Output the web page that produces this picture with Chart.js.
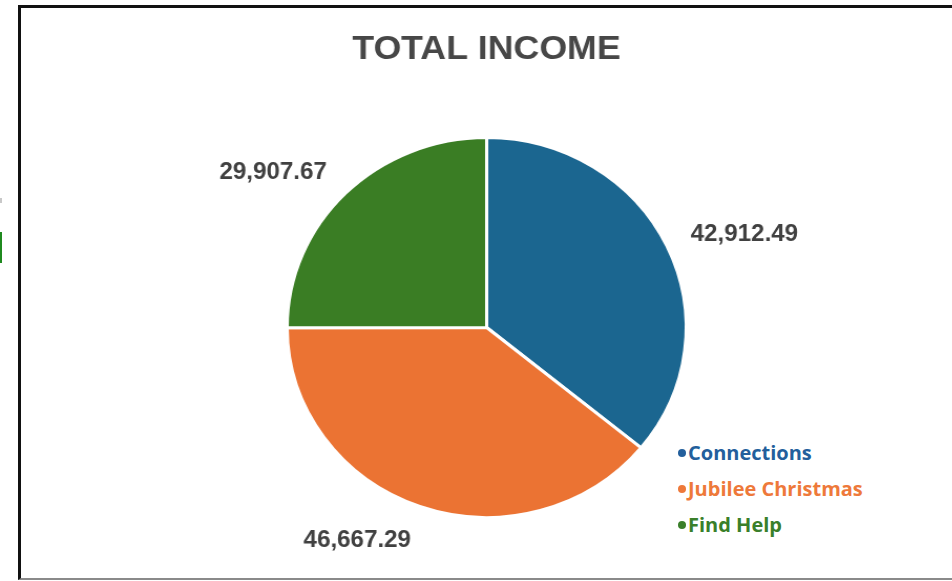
<!DOCTYPE html>
<html>
<head>
<meta charset="utf-8">
<script src="https://cdn.jsdelivr.net/npm/chart.js@4.4.1/dist/chart.umd.min.js"></script>
<style>
  html, body { margin: 0; padding: 0; background: #fff; overflow: hidden; }
  body { width: 952px; height: 581px; position: relative; }
  #frame {
    position: absolute; left: 18px; top: 5px; width: 960px; height: 570px;
    border-left: 3px solid #111; border-top: 3px solid #111; border-bottom: 2px solid #8a8a8a;
  }
  #chartBox {
    position: absolute; left: 0; top: 0; width: 907px; height: 581px;
    transform: scaleX(1.05); transform-origin: 0 0;
  }
  #legend {
    position: absolute; left: 657px; top: 425px; width: 284px; height: 128px;
    background: #fff; font-family: "Open Sans", sans-serif; font-weight: 700; font-size: 20px;
  }
  #legend div { position: absolute; left: 21px; white-space: nowrap; line-height: 24px; }
  #legend span {
    display: inline-block; width: 8px; height: 8px; border-radius: 50%;
    background: currentColor; vertical-align: 3px; margin-right: 2px;
  }
  .mark { position: absolute; left: 0; width: 2px; }
</style>
</head>
<body>
<div id="frame"></div>
<div class="mark" style="top:198px;height:5px;background:#c8c8c8"></div>
<div class="mark" style="top:232px;height:31px;background:#1f8a1f"></div>
<div id="chartBox"><canvas id="incomeChart"></canvas></div>
<div id="legend"></div>

<script>
// Datos del gráfico
const categories = ["Connections", "Jubilee Christmas", "Find Help"];
const incomeValues = [42912.49, 46667.29, 29907.67];
const sliceColors = ["#1b6690", "#eb7333", "#3a7d24"];
const legendColors = ["#235f9c", "#ee793a", "#3a7f2a"];
const chartTitle = "TOTAL INCOME";

// Etiquetas de datos y título dibujados sobre el canvas
const labelsPlugin = {
  id: "outsideLabels",
  afterDatasetsDraw(chart) {
    const ctx = chart.ctx;
    const meta = chart.getDatasetMeta(0);
    ctx.save();
    ctx.fillStyle = "#404040";
    ctx.font = "bold 23px 'Liberation Sans', Arial, sans-serif";
    ctx.textAlign = "center";
    ctx.textBaseline = "middle";
    meta.data.forEach((arc, i) => {
      const p = arc.getProps(["x", "y", "startAngle", "endAngle", "outerRadius"], true);
      const mid = (p.startAngle + p.endAngle) / 2;
      const dx = Math.cos(mid), dy = Math.sin(mid);
      const text = incomeValues[i].toLocaleString("en-US", { minimumFractionDigits: 2 });
      const w = ctx.measureText(text).width;
      const d = p.outerRadius + 25;
      const cx = p.x + dx * d + Math.sign(dx) * w / 2;
      const cy = p.y + dy * d + dy * 8 + 3;
      ctx.fillText(text, cx, cy);
    });

    // título
    ctx.fillStyle = "#474747";
    ctx.font = "bold 34px 'Liberation Sans', Arial, sans-serif";
    ctx.fillText(chartTitle, 463.3, 50);
    ctx.restore();
  }
};

const incomeChart = new Chart(document.getElementById("incomeChart"), {
  type: "pie",
  data: {
    labels: categories,
    datasets: [{
      data: incomeValues,
      backgroundColor: sliceColors,
      borderColor: "#ffffff",
      borderWidth: 3
    }]
  },
  options: {
    responsive: true,
    maintainAspectRatio: false,
    animation: false,
    layout: { padding: { left: 272, right: 252, top: 136, bottom: 62 } },
    plugins: {
      legend: { display: false },
      tooltip: { enabled: false }
    }
  },
  plugins: [labelsPlugin]
});

// Leyenda en HTML
const legendBox = document.getElementById("legend");
categories.forEach((name, i) => {
  const row = document.createElement("div");
  row.style.top = (16 + i * 36) + "px";
  row.style.color = legendColors[i];
  row.appendChild(document.createElement("span"));
  row.appendChild(document.createTextNode(name));
  legendBox.appendChild(row);
});
</script>
</body>
</html>
